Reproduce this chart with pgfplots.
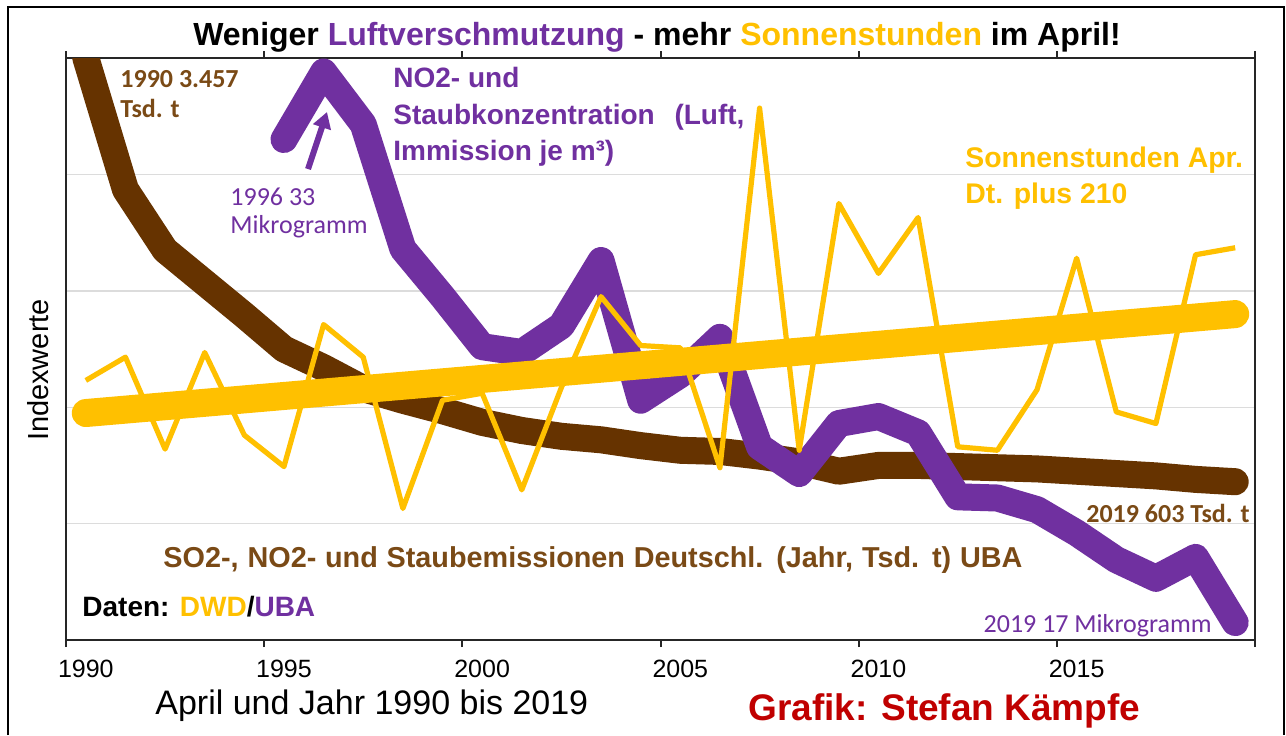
\documentclass[border=0pt]{standalone}
\usepackage{pgfplots}
\pgfplotsset{compat=1.18}
\usepackage{pgfplotstable}
\usepackage{fontspec}
\setmainfont{Liberation Sans}
\newfontfamily\calib{Carlito}
\usetikzlibrary{arrows.meta}
\definecolor{lila}{HTML}{7030A0}
\definecolor{gelb}{HTML}{FFC000}
\definecolor{braun}{HTML}{663300}
\definecolor{braunt}{HTML}{7A4A16}
\definecolor{rot}{HTML}{C00000}
\definecolor{gitter}{HTML}{DCDCDC}

\pgfplotstableread{
year v
1990 5.00
1991 3.87
1992 3.35
1993 3.07
1994 2.79
1995 2.50
1996 2.34
1997 2.16
1998 2.06
1999 1.97
2000 1.87
2001 1.80
2002 1.75
2003 1.72
2004 1.67
2005 1.63
2006 1.62
2007 1.58
2008 1.53
2009 1.45
2010 1.50
2011 1.50
2012 1.49
2013 1.48
2014 1.47
2015 1.45
2016 1.43
2017 1.41
2018 1.38
2019 1.36
}\emis

\pgfplotstableread{
year v
1995 4.30
1996 4.88
1997 4.43
1998 3.36
1999 2.95
2000 2.52
2001 2.47
2002 2.70
2003 3.26
2004 2.06
2005 2.28
2006 2.60
2007 1.66
2008 1.43
2009 1.86
2010 1.92
2011 1.78
2012 1.23
2013 1.22
2014 1.12
2015 0.92
2016 0.69
2017 0.53
2018 0.71
2019 0.15
}\imm

\pgfplotstableread{
year v
1990 2.23
1991 2.43
1992 1.64
1993 2.47
1994 1.76
1995 1.49
1996 2.71
1997 2.43
1998 1.13
1999 2.06
2000 2.12
2001 1.29
2002 2.17
2003 2.95
2004 2.53
2005 2.51
2006 1.48
2007 4.57
2008 1.63
2009 3.75
2010 3.15
2011 3.63
2012 1.66
2013 1.63
2014 2.15
2015 3.28
2016 1.96
2017 1.86
2018 3.31
2019 3.37
}\sonne

\pgfplotstableread{
year v
1990 1.95
2019 2.80
}\trend

\begin{document}
\begin{tikzpicture}
\begin{scope}[x=0.5pt,y=-0.5pt]
\path[use as bounding box] (0,0) rectangle (1286,735);
\fill[white] (0,0) rectangle (1286,735);
\draw[black, line width=1pt] (8,735) -- (8,7) -- (1284,7) -- (1284,735);
\end{scope}

\begin{axis}[
  at={(33pt,-320pt)}, anchor=south west,
  scale only axis, width=594.5pt, height=291pt,
  xmin=1989.5, xmax=2019.5, ymin=0, ymax=5,
  axis line style={draw=black!85, line width=1pt},
  xtick={1990,1995,2000,2005,2010,2015},
  xticklabels={1990,1995,2000,2005,2010,2015},
  major tick length=0pt,
  minor xtick={1989.5,1994.5,...,2019.5},
  minor tick length=3.5pt,
  minor x tick style={draw=black!85, line width=1pt},
  tick align=outside,
  xticklabel style={font=\fontsize{12.5}{14}\selectfont, yshift=-6.5pt},
  ytick={1,2,3,4}, yticklabels={},
  ymajorgrids, grid style={gitter, line width=0.7pt},
  clip=true,
]
\addplot[braun, line width=13.5pt, line cap=round, line join=round, no markers] table[x=year,y=v]{\emis};
\addplot[lila, line width=13.5pt, line cap=round, line join=round, no markers] table[x=year,y=v]{\imm};
\addplot[gelb, line width=14pt, line cap=round, no markers] table[x=year,y=v]{\trend};
\addplot[gelb, line width=2.6pt, line join=round, no markers] table[x=year,y=v]{\sonne};
\end{axis}

\begin{scope}[x=0.5pt,y=-0.5pt]
\node[anchor=base, inner sep=0, font=\fontsize{16}{19}\selectfont\bfseries] at (657,45)
  {Weniger \textcolor{lila}{Luftverschmutzung} - mehr \textcolor{gelb}{Sonnenstunden} im April!};
\node[rotate=90, inner sep=0, font=\fontsize{14.5}{17}\selectfont] at (38,370) {Indexwerte};
% brown labels
\node[anchor=base west, inner sep=0, text=braunt, font=\calib\bfseries\fontsize{13}{15}\selectfont] at (120,87) {1990 3.457};
\node[anchor=base west, inner sep=0, text=braunt, font=\calib\bfseries\fontsize{13}{15}\selectfont] at (120,117) {Tsd. t};
\node[anchor=base east, inner sep=0, text=braunt, font=\calib\bfseries\fontsize{13}{15}\selectfont] at (1250,522) {2019 603 Tsd. t};
% purple labels
\node[anchor=base west, inner sep=0, text=lila, font=\calib\fontsize{13}{15}\selectfont] at (230,205) {1996 33};
\node[anchor=base west, inner sep=0, text=lila, font=\calib\fontsize{13}{15}\selectfont] at (230,233) {Mikrogramm};
\node[anchor=base east, inner sep=0, text=lila, font=\calib\fontsize{13}{15}\selectfont] at (1212,632) {2019 17 Mikrogramm};
\draw[lila, line width=3pt, -{Triangle[length=8pt,width=9pt]}] (308,169) -- (327,112);
% series captions
\node[anchor=base west, inner sep=0, text=lila, font=\bfseries\fontsize{14}{16}\selectfont] at (393,87) {NO2- und};
\node[anchor=base west, inner sep=0, text=lila, font=\bfseries\fontsize{14}{16}\selectfont] at (393,124) {Staubkonzentration\hspace{6pt} (Luft,};
\node[anchor=base west, inner sep=0, text=lila, font=\bfseries\fontsize{14}{16}\selectfont] at (393,160) {Immission je m³)};
\node[anchor=base west, inner sep=0, text=gelb, font=\bfseries\fontsize{14.2}{16}\selectfont] at (965,167) {Sonnenstunden Apr.};
\node[anchor=base west, inner sep=0, text=gelb, font=\bfseries\fontsize{14.2}{16}\selectfont] at (965,203) {Dt. plus 210};
\node[anchor=base west, inner sep=0, text=braunt, font=\bfseries\fontsize{14.4}{16}\selectfont, text width=429.5pt, align=justify] at (163,567) {SO2-, NO2- und Staubemissionen Deutschl. (Jahr, Tsd. t) UBA\hspace*{-\parfillskip}};
\node[anchor=base west, inner sep=0, font=\bfseries\fontsize{14}{16}\selectfont] at (82,616) {Daten: \textcolor{gelb}{DWD}/\textcolor{lila}{UBA}};
% bottom texts
\node[anchor=base west, inner sep=0, font=\fontsize{17}{20}\selectfont] at (155,714) {April und Jahr 1990 bis 2019};
\node[anchor=base west, inner sep=0, text=rot, font=\bfseries\fontsize{18.5}{21}\selectfont] at (748,720) {Grafik: Stefan Kämpfe};
\end{scope}
\end{tikzpicture}
\end{document}
